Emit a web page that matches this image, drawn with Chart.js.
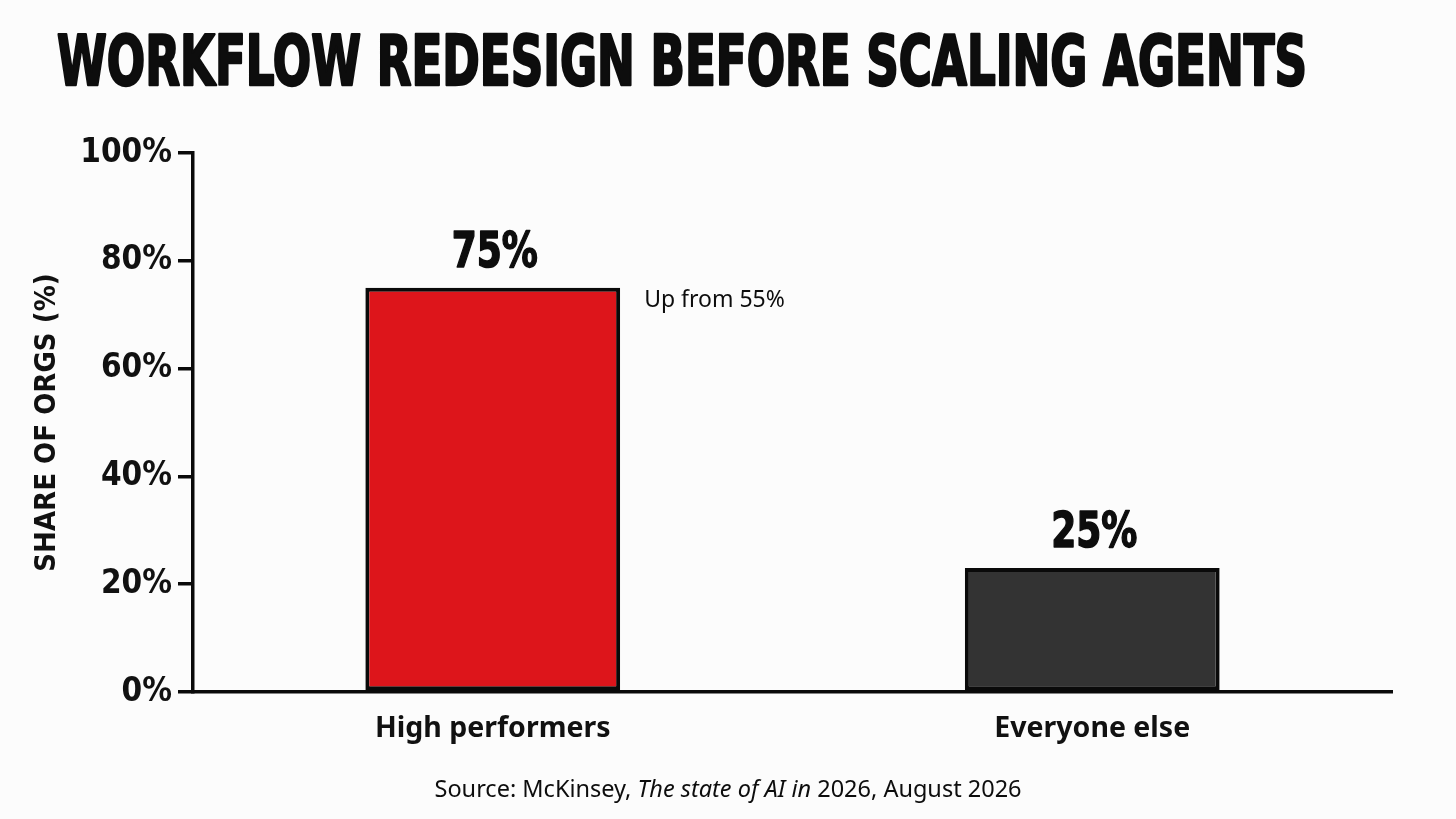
<!DOCTYPE html>
<html>
<head>
<meta charset="utf-8">
<script src="https://cdn.jsdelivr.net/npm/chart.js@4"></script>
<style>
  html, body { margin: 0; padding: 0; background: #fcfcfc; }
  #wrap { width: 1456px; height: 819px; position: relative; }
</style>
</head>
<body>
<div id="wrap"><canvas id="workflow" width="1456" height="819"></canvas></div>
<script>
const groups = ["High performers", "Everyone else"];
const shares = [75, 23];
const shareLabels = ["75%", "25%"];
const barColors = ["#dd151b", "#333333"];
const yTicks = [0, 20, 40, 60, 80, 100];
const note = "Up from 55%";
const title = "WORKFLOW REDESIGN BEFORE SCALING AGENTS";

const condensed = "'DejaVu Sans Condensed', 'DejaVu Sans', sans-serif";
const plain = "'Noto Sans', 'Open Sans', sans-serif";

// title, value labels, note and source drawn on top of the chart
const extras = {
  id: "extras",
  afterDraw(chart) {
    const ctx = chart.ctx;
    ctx.save();
    ctx.fillStyle = "#0d0d0d";
    ctx.strokeStyle = "#0d0d0d";
    ctx.lineJoin = "round";

    // title squeezed to its width, stroked a bit to look heavier
    ctx.font = "bold 69px " + condensed;
    ctx.textBaseline = "alphabetic";
    ctx.textAlign = "left";
    let w = ctx.measureText(title).width;
    ctx.save();
    ctx.translate(57, 85);
    ctx.scale(1250 / w, 1);
    ctx.lineWidth = 2.5;
    ctx.fillText(title, 0, 0);
    ctx.strokeText(title, 0, 0);
    ctx.restore();

    const meta = chart.getDatasetMeta(0);
    meta.data.forEach((bar, i) => {
      ctx.font = "bold 50px " + condensed;
      ctx.textAlign = "center";
      ctx.save();
      ctx.translate(bar.x + 2, bar.y - 21);
      ctx.scale(0.8, 1);
      ctx.lineWidth = 1.5;
      ctx.fillText(shareLabels[i], 0, 0);
      ctx.strokeText(shareLabels[i], 0, 0);
      ctx.restore();
    });

    // note next to first bar
    const first = meta.data[0];
    ctx.font = "23px " + plain;
    ctx.textAlign = "left";
    ctx.textBaseline = "middle";
    ctx.fillText(note, first.x + first.width / 2 + 24, first.y + 13);

    // source line, with italic report name
    const parts = [
      ["Source: McKinsey, ", "23.5px " + plain],
      ["The state of AI in", "italic 23.5px " + plain],
      [" 2026, August 2026", "23.5px " + plain]
    ];
    let total = 0;
    parts.forEach(p => { ctx.font = p[1]; total += ctx.measureText(p[0]).width; });
    let x = 728 - total / 2;
    ctx.textBaseline = "alphabetic";
    parts.forEach(p => {
      ctx.font = p[1];
      ctx.fillText(p[0], x, 797);
      x += ctx.measureText(p[0]).width;
    });
    ctx.restore();
  }
};

new Chart(document.getElementById("workflow").getContext("2d"), {
  type: "bar",
  data: {
    labels: groups,
    datasets: [{
      data: shares,
      backgroundColor: barColors,
      borderColor: "#0a0a0a",
      borderWidth: 4,
      borderSkipped: false,
      categoryPercentage: 1,
      barPercentage: 0.425
    }]
  },
  options: {
    responsive: false,
    animation: false,
    layout: { padding: { left: 30, right: 64, top: 153, bottom: 0 } },
    plugins: { legend: { display: false }, tooltip: { enabled: false } },
    scales: {
      x: {
        grid: { display: false },
        border: { color: "#0a0a0a", width: 3.5 },
        ticks: { color: "#111", padding: 12, font: { family: plain, size: 28.5, weight: "bold" } },
        afterFit: s => { s.height = 127; }
      },
      y: {
        min: 0,
        max: 100,
        afterBuildTicks: s => { s.ticks = yTicks.map(v => ({ value: v })); },
        grid: { drawOnChartArea: false, color: "#0a0a0a", lineWidth: 3.5, tickLength: 15 },
        border: { color: "#0a0a0a", width: 3.5 },
        ticks: {
          color: "#111",
          padding: 6,
          font: { family: condensed, size: 33, weight: "bold" },
          callback: v => v + "%"
        },
        title: {
          display: true,
          text: "SHARE OF ORGS (%)",
          color: "#111",
          padding: { top: 0, bottom: 0 },
          font: { family: condensed, size: 29, weight: "bold" }
        },
        afterFit: s => { s.width = 163; }
      }
    }
  },
  plugins: [extras]
});
</script>
</body>
</html>
